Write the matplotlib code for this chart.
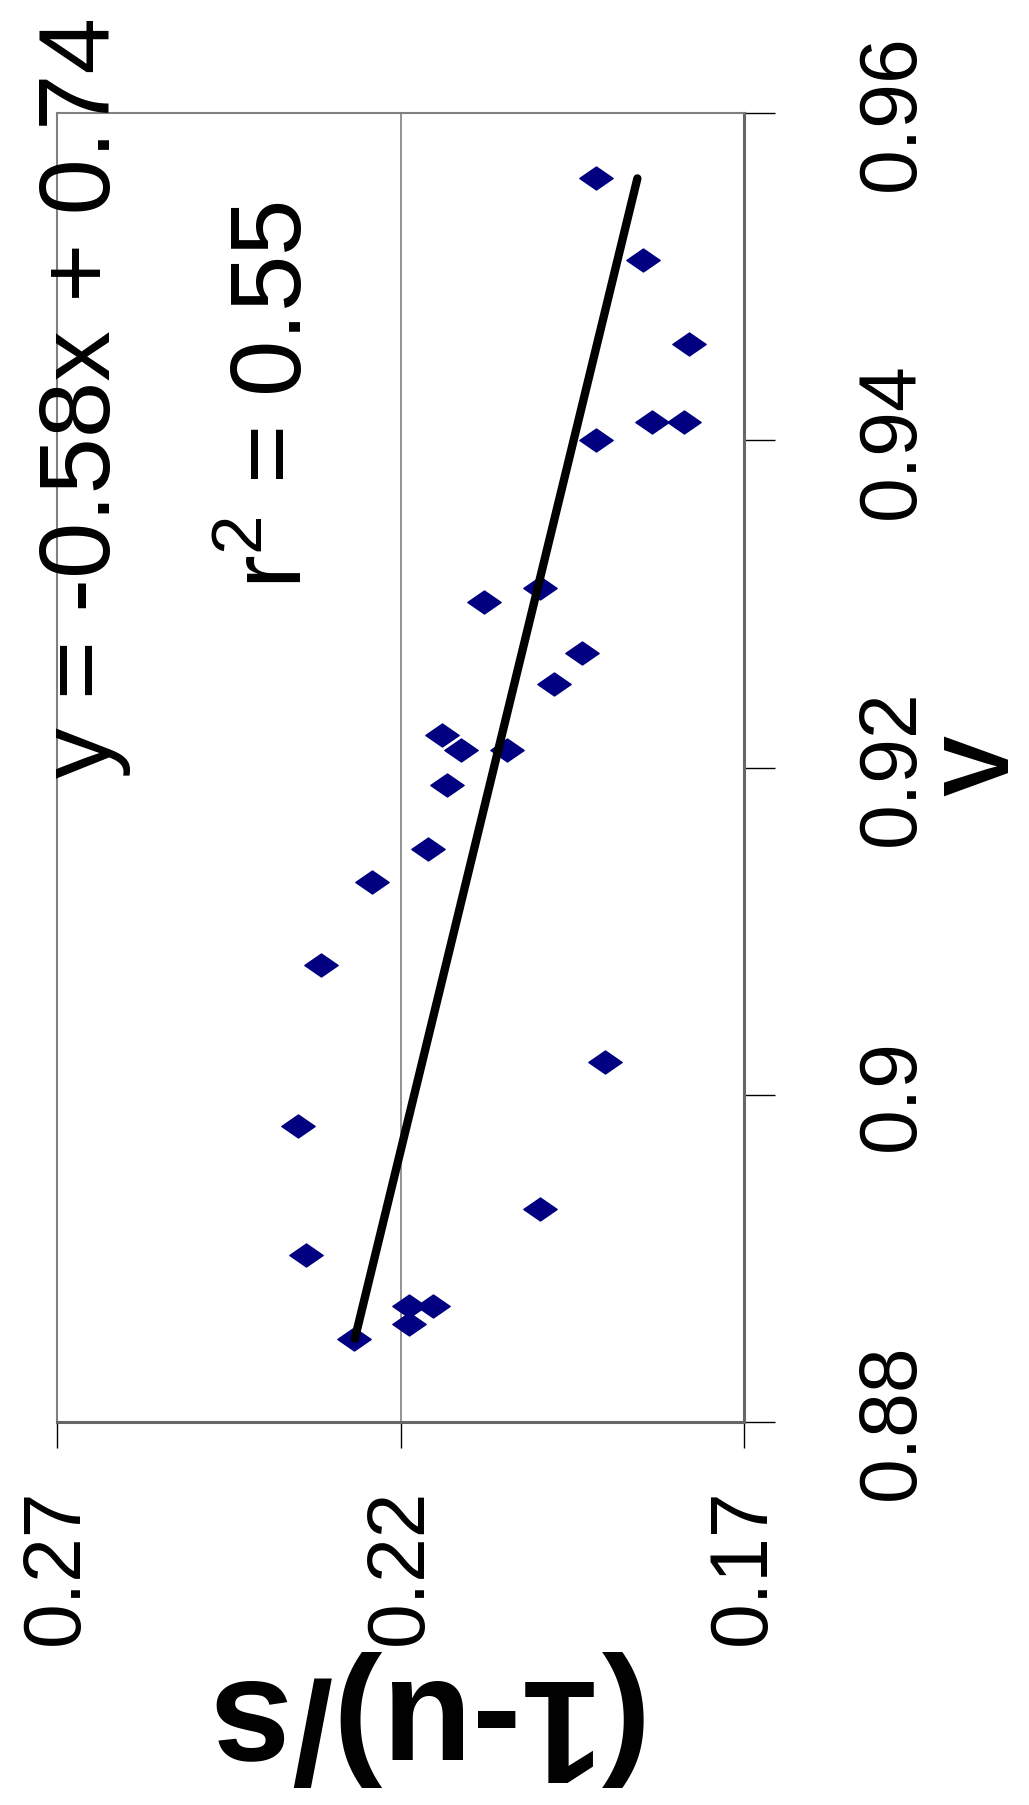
import matplotlib
matplotlib.use("Agg")
import matplotlib.pyplot as plt
from matplotlib import font_manager
from matplotlib.path import Path

# measured points: V and (1-u)/s
v_vals = [0.9560, 0.9510, 0.9459, 0.9411, 0.9411, 0.9400, 0.9310, 0.9301,
          0.9270, 0.9251, 0.9220, 0.9211, 0.9211, 0.9189, 0.9150, 0.9130,
          0.9079, 0.9020, 0.8981, 0.8902, 0.8930, 0.8871, 0.8871, 0.8860,
          0.8851]
us_vals = [0.1915, 0.1847, 0.1780, 0.1834, 0.1787, 0.1915, 0.1997, 0.2078,
           0.1936, 0.1977, 0.2139, 0.2112, 0.2045, 0.2132, 0.2160, 0.2241,
           0.2315, 0.1902, 0.2349, 0.2337, 0.1997, 0.2187, 0.2152, 0.2187,
           0.2268]

# linear fit quoted on the chart
fit_slope = -0.58
fit_intercept = 0.74
fit_r2 = 0.55

v_ticks = [0.88, 0.90, 0.92, 0.94, 0.96]
v_tick_labels = ['0.88', '0.9', '0.92', '0.94', '0.96']
us_ticks = [0.27, 0.22, 0.17]
us_tick_labels = ['0.27', '0.22', '0.17']

installed = {f.name for f in font_manager.fontManager.ttflist}
if 'Liberation Sans Narrow' in installed:
    num_font, tick_size, note_size = 'Liberation Sans Narrow', 66, 89
else:
    num_font, tick_size, note_size = 'Liberation Sans', 58, 73

W, H = 1029, 1805
fig = plt.figure(figsize=(W / 100, H / 100), dpi=100)


def fx(px):
    return px / W


def fy(py):
    return 1 - py / H


# chart is laid on its side: V runs upward, (1-u)/s runs right-to-left
ax = fig.add_axes([fx(57), fy(1422), fx(744) - fx(57), fy(113) - fy(1422)])
ax.set_xlim(0.27, 0.17)
ax.set_ylim(0.88, 0.96)

diamond = Path([(-1, 0), (0, 0.69), (1, 0), (0, -0.69), (-1, 0)],
               [Path.MOVETO, Path.LINETO, Path.LINETO, Path.LINETO, Path.CLOSEPOLY])
ax.plot(us_vals, v_vals, linestyle='none', marker=diamond, ms=24,
        color='#000080', mec='#000080', zorder=3)

v_line = [min(v_vals), max(v_vals)]
us_line = [fit_slope * v + fit_intercept for v in v_line]
ax.plot(us_line, v_line, color='black', lw=6, solid_capstyle='round', zorder=4)

ax.yaxis.tick_right()
ax.set_yticks(v_ticks, v_tick_labels)
ax.set_xticks(us_ticks, us_tick_labels)
ax.tick_params(axis='y', direction='out', length=22, width=1, color='black',
               pad=58, labelrotation=90, labelsize=tick_size,
               labelfontfamily=num_font)
ax.tick_params(axis='x', direction='out', length=19, width=1, color='black',
               pad=29, labelrotation=90, labelsize=tick_size,
               labelfontfamily=num_font)
for lab in ax.get_yticklabels():
    lab.set_va('center')

ax.grid(axis='x', color='#808080', lw=1.2)
ax.grid(axis='y', visible=False)
for side in ['top', 'left']:
    ax.spines[side].set_color('#808080')
    ax.spines[side].set_linewidth(1.5)
for side in ['right', 'bottom']:
    ax.spines[side].set_color('#666666')
    ax.spines[side].set_linewidth(2.2)

fig.text(fx(110), fy(397), f'y = {fit_slope:.2f}x + {fit_intercept:.2f}',
         rotation=90, rotation_mode='anchor', ha='center', va='baseline',
         fontsize=note_size, family=num_font)
fig.text(fx(302), fy(395), f'r$^{{\\mathregular{{2}}}}$ = {fit_r2:.2f}',
         rotation=90, rotation_mode='anchor', ha='center', va='baseline',
         fontsize=note_size, family=num_font)

fig.text(fx(416), fy(1718), '(1-u)/s', rotation=180, ha='center', va='center',
         fontsize=106, fontweight='bold', family='Liberation Sans')
fig.text(fx(1008), fy(765), 'V', rotation=90, rotation_mode='anchor',
         ha='center', va='baseline', fontsize=66, fontweight='bold',
         family='Liberation Sans')

fig.savefig('out.png', dpi=100)
